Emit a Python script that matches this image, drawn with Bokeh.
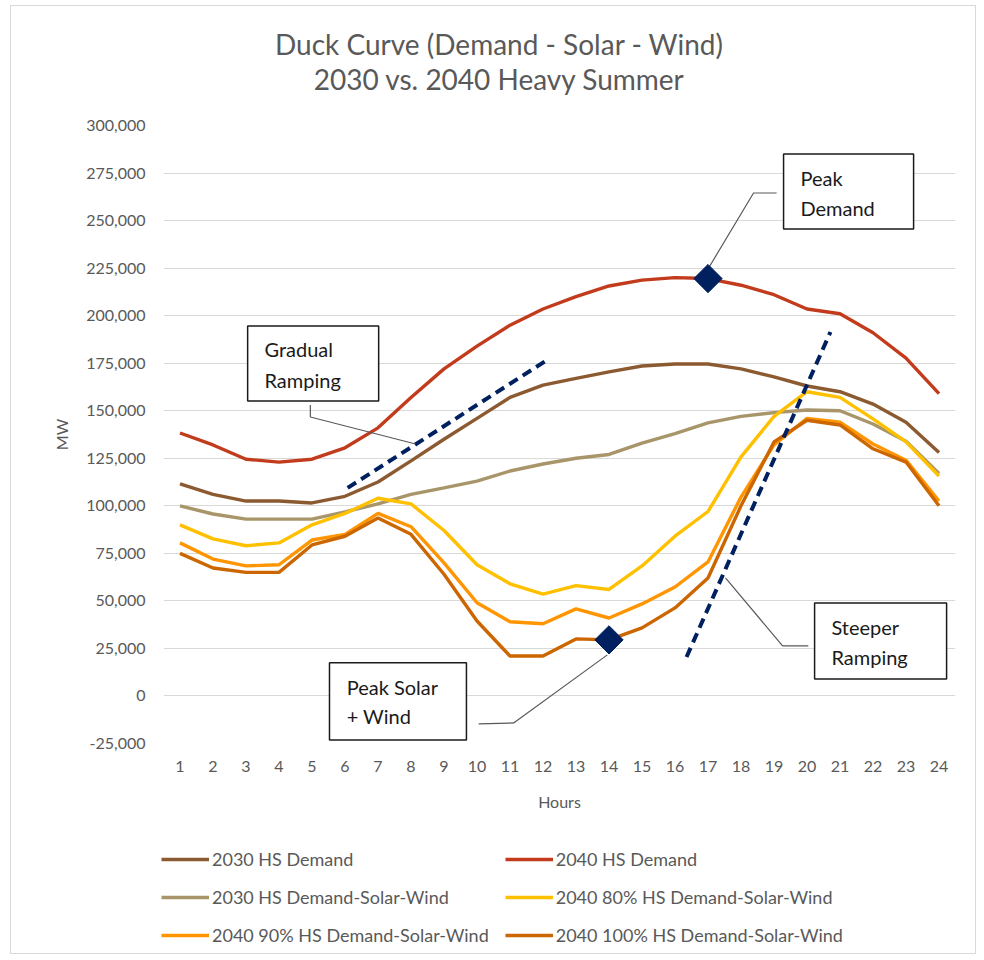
import math
from bokeh.plotting import figure
from bokeh.layouts import column
from bokeh.models import (FixedTicker, NumeralTickFormatter, Legend, LegendItem,
                          BoxAnnotation, Label, Range1d)
from bokeh.embed import file_html
from bokeh.resources import INLINE

hours = list(range(1, 25))
demand_2030 = [111500, 106000, 102500, 102500, 101500, 105000, 112500, 123600, 135000, 146000,
               157000, 163500, 167000, 170400, 173500, 174600, 174600, 172000, 167800, 163000,
               160000, 153500, 144000, 128000]
demand_2040 = [138300, 132000, 124500, 123000, 124500, 130500, 141000, 157000, 172000, 184000,
               195000, 203500, 210000, 215600, 218700, 220000, 219500, 216000, 211000, 203500,
               201000, 191000, 177700, 159000]
dsw_2030 = [100000, 95700, 93000, 93000, 93000, 96800, 101000, 106000, 109400, 113000,
            118300, 122000, 125000, 127000, 133000, 138000, 143600, 147000, 149000, 150400,
            150000, 143000, 134000, 117000]
dsw_2040_80 = [90000, 82600, 79000, 80500, 90000, 96000, 104000, 101000, 87000, 69000,
               59000, 53600, 58000, 56000, 68400, 84000, 97000, 125700, 147000, 160000,
               157000, 145700, 133600, 115700]
dsw_2040_90 = [80500, 72000, 68400, 69000, 82000, 85000, 96000, 89000, 70000, 49000,
               39000, 38000, 45800, 41000, 48400, 57300, 70500, 104600, 132000, 146000,
               144000, 132500, 124000, 102500]
dsw_2040_100 = [75000, 67300, 65000, 65000, 79400, 84000, 93600, 85000, 64000, 39400,
                21000, 21000, 30000, 29500, 35800, 46300, 62000, 100000, 133600, 145000,
                142500, 130000, 123000, 100000]

series_names = ["2030 HS Demand", "2040 HS Demand", "2030 HS Demand-Solar-Wind",
                "2040 80% HS Demand-Solar-Wind", "2040 90% HS Demand-Solar-Wind",
                "2040 100% HS Demand-Solar-Wind"]
series_values = [demand_2030, demand_2040, dsw_2030, dsw_2040_80, dsw_2040_90, dsw_2040_100]
series_colors = ["#8C5A30", "#C23B1C", "#A8966A", "#FFC000", "#FF9500", "#CC6600"]

y_ticks = list(range(-25000, 300001, 25000))

title_lines = ["Duck Curve (Demand - Solar - Wind)", "2030 vs. 2040 Heavy Summer"]

# highlighted points
peak_demand_pt = (17, 219500)
peak_solar_pt = (14, 29500)

# ramp guide lines (hour, MW)
gradual_x = [6.08, 12.08]
gradual_y = [109400, 176200]
steep_x = [16.35, 20.71]
steep_y = [20500, 191400]

FONT = "Lato"
GREY = "#595959"
TOTAL_W = 964

# ---- title panel ----
tp = figure(frame_width=TOTAL_W, frame_height=96, output_backend="svg", toolbar_location=None,
            x_range=Range1d(0, TOTAL_W), y_range=Range1d(0, 96),
            x_axis_type=None, y_axis_type=None, min_border=0)
tp.outline_line_color = None
tp.xgrid.grid_line_color = None
tp.ygrid.grid_line_color = None
for txt, yy in zip(title_lines, [59, 24]):
    tp.add_layout(Label(x=336, y=yy, text=txt, text_font=FONT, text_font_size="28px",
                        text_color=GREY, text_align="center", text_baseline="middle"))

# ---- main chart ----
p = figure(frame_width=792, frame_height=618, output_backend="svg", toolbar_location=None,
           x_range=Range1d(0.5, 24.5), y_range=Range1d(-25000, 300000),
           min_border_left=152, min_border_right=20, min_border_top=23,
           min_border_bottom=80)
p.outline_line_color = None
p.background_fill_color = "white"
p.border_fill_color = "white"

p.xaxis.ticker = FixedTicker(ticks=hours)
p.yaxis.ticker = FixedTicker(ticks=y_ticks)
p.yaxis.formatter = NumeralTickFormatter(format="0,0")
for ax in (p.xaxis, p.yaxis):
    ax.axis_line_color = None
    ax.major_tick_line_color = None
    ax.minor_tick_line_color = None
    ax.major_tick_out = 0
    ax.major_label_text_font = FONT
    ax.major_label_text_font_size = "16px"
    ax.major_label_text_color = GREY
    ax.axis_label_text_font = FONT
    ax.axis_label_text_font_size = "16px"
    ax.axis_label_text_color = GREY
    ax.axis_label_text_font_style = "normal"
p.xaxis.major_label_standoff = 17
p.yaxis.major_label_standoff = 18
p.xaxis.axis_label = "Hours"
p.yaxis.axis_label = "MW"
p.xaxis.axis_label_standoff = 17
p.yaxis.axis_label_standoff = 12

p.xgrid.grid_line_color = None
p.ygrid.ticker = FixedTicker(ticks=y_ticks)
p.ygrid.grid_line_color = "#D9D9D9"
p.ygrid.grid_line_width = 1

for vals, col in zip(series_values, series_colors):
    p.line(hours, vals, line_color=col, line_width=3.4)

# dashed ramp guides
p.line(gradual_x, gradual_y, line_color="#002060", line_width=4, line_dash="10 6")
p.line(steep_x, steep_y, line_color="#002060", line_width=4, line_dash="10 6")

# leader lines
LEAD = "#595959"
p.line([19.08, 18.38, 17.05], [264500, 264500, 226000], line_color=LEAD, line_width=1.2)
p.line([4.95, 4.95, 8.14], [153000, 146700, 132500], line_color=LEAD, line_width=1.2)
p.line([10.05, 11.11, 13.95], [-14700, -14200, 21600], line_color=LEAD, line_width=1.2)
p.line([20.04, 19.26, 17.53], [26300, 26300, 62100], line_color=LEAD, line_width=1.2)

# diamonds
p.scatter([peak_demand_pt[0], peak_solar_pt[0]], [peak_demand_pt[1], peak_solar_pt[1]],
          marker="square", angle=math.pi / 4, size=20,
          fill_color="#002060", line_color="#002060")

# callout boxes
boxes = [
    (19.29, 23.23, 285000, 245600, 19.80, ["Peak", "Demand"], [272400, 256600]),
    (3.05, 7.02, 194600, 155100, 3.56, ["Gradual", "Ramping"], [182500, 166200]),
    (5.53, 9.68, 17400, -23100, 6.05, ["Peak Solar", "+ Wind"], [4700, -10500]),
    (20.23, 24.23, 48900, 8900, 20.74, ["Steeper", "Ramping"], [36300, 20500]),
]
for l, r_, t, b, tx, lines, ys in boxes:
    p.add_layout(BoxAnnotation(left=l, right=r_, top=t, bottom=b, fill_color="white",
                               fill_alpha=1.0, line_color="#1A1A1A", line_alpha=1.0,
                               line_width=1.5))
for l, r_, t, b, tx, lines, ys in boxes:
    for txt, yy in zip(lines, ys):
        p.add_layout(Label(x=tx, y=yy, text=txt, text_font=FONT, text_font_size="20px",
                           text_color="#1A1A1A", text_baseline="middle", text_align="left"))

# ---- legend panel below the chart ----
lg = figure(frame_width=TOTAL_W, frame_height=130, output_backend="svg", toolbar_location=None,
            x_range=Range1d(0, 1), y_range=Range1d(0, 1), x_axis_type=None, y_axis_type=None,
            min_border=0)
lg.outline_line_color = None
lg.xgrid.grid_line_color = None
lg.ygrid.grid_line_color = None
items = []
for name, col in zip(series_names, series_colors):
    # swatch renderer kept outside the visible range; only its legend entry shows
    r = lg.line([-2, -1], [-2, -2], line_color=col, line_width=3.4)
    items.append(LegendItem(label=name, renderers=[r]))
legend = Legend(items=items, ncols=2, location=(150, 7), orientation="horizontal",
                glyph_width=48, glyph_height=22, label_height=22, label_width=267,
                label_standoff=3, spacing=16, padding=2, margin=0,
                label_text_font=FONT, label_text_font_size="18px", label_text_color=GREY,
                border_line_color=None, background_fill_alpha=0)
lg.add_layout(legend, "center")

layout = column(tp, p, lg, spacing=0, margin=(5, 0, 0, 10),
                styles={"border": "1px solid #D9D9D9"})

open("out.html", "w").write(file_html(layout, INLINE))
